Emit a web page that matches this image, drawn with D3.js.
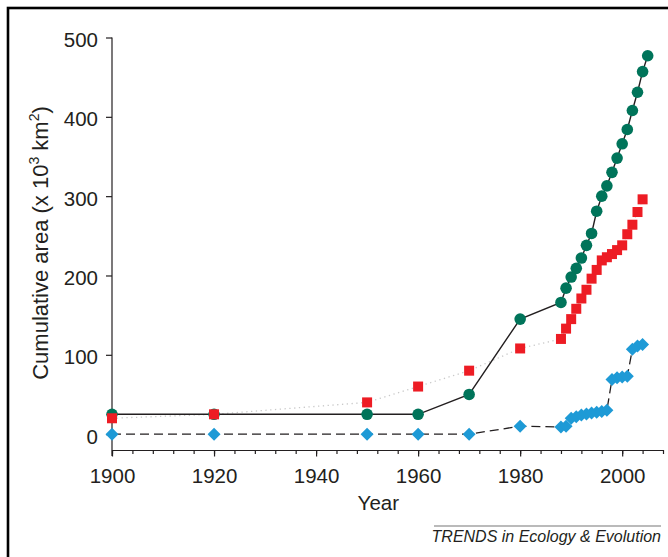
<!DOCTYPE html>
<meta charset="utf-8">
<style>
  body { margin: 0; background: #fff; }
  svg { display: block; font-family: "Liberation Sans", Arial, sans-serif; }
  .axis path, .axis line { stroke: #231f20; stroke-width: 1.2; }
  .axis text { fill: #231f20; font-size: 20.5px; }
</style>
<script src="https://d3js.org/d3.v7.min.js"></script>
<body>
<div id="chart"></div>
<script>
// values (x 10^3 km2)
var greenYears = [1900, 1920, 1950, 1960, 1970, 1980, 1988, 1989, 1990, 1991, 1992, 1993, 1994, 1995, 1996, 1997, 1998, 1999, 2000, 2001, 2002, 2003, 2004, 2005];
var greenValues = [25, 25, 25, 25, 50, 145, 166, 184, 198, 209, 222, 238, 253, 281, 300, 313, 330, 348, 366, 384, 408, 431, 457, 477];

var redYears = [1900, 1920, 1950, 1960, 1970, 1980, 1988, 1989, 1990, 1991, 1992, 1993, 1994, 1995, 1996, 1997, 1998, 1999, 2000, 2001, 2002, 2003, 2004];
var redValues = [20, 25, 40, 60, 80, 108, 120, 133, 145, 158, 171, 182, 196, 207, 219, 223, 227, 232, 238, 252, 264, 280, 296];

var blueYears = [1900, 1920, 1950, 1960, 1970, 1980, 1988, 1989, 1990, 1991, 1992, 1993, 1994, 1995, 1996, 1997, 1998, 1999, 2000, 2001, 2002, 2003, 2004];
var blueValues = [0, 0, 0, 0, 0, 10, 9, 10, 20, 22, 24, 25.5, 26.5, 27.5, 28.5, 30, 69, 71, 72, 73, 107, 111, 113];

var xTickLabels = [1900, 1920, 1940, 1960, 1980, 2000];
var yTickLabels = [0, 100, 200, 300, 400, 500];

var W = 668, H = 557;

var svg = d3.select("#chart").append("svg")
    .attr("width", W)
    .attr("height", H);

// outer frame (runs off the right and bottom edges)
svg.append("rect")
    .attr("x", 8).attr("y", 8)
    .attr("width", 720).attr("height", 600)
    .attr("fill", "none")
    .attr("stroke", "#000")
    .attr("stroke-width", 2.6);

var x = d3.scaleLinear().domain([1900, 2008]).range([112, 663]);
var y = d3.scaleLinear().domain([-20, 500]).range([450, 37.5]);

// x axis: minor ticks every 4 years, labels every 20
svg.append("g")
    .attr("class", "axis")
    .attr("transform", "translate(0,450)")
    .call(d3.axisBottom(x).tickValues(d3.range(1900, 2009, 4)).tickSize(4).tickSizeOuter(0).tickFormat(""));
svg.append("g")
    .attr("class", "axis")
    .attr("transform", "translate(0,450)")
    .call(d3.axisBottom(x).tickValues(xTickLabels).tickSize(6.5).tickPadding(12).tickFormat(d3.format("d")))
    .call(function(g) { g.select(".domain").remove(); });

var yAxis = svg.append("g")
    .attr("class", "axis")
    .attr("transform", "translate(112,0)")
    .call(d3.axisLeft(y).tickValues(yTickLabels).tickSize(6).tickPadding(8).tickSizeOuter(0));
yAxis.selectAll(".tick text").attr("dy", "0.44em");
// y axis line runs down to the foot of the x ticks
yAxis.select(".domain").attr("d", "M0,456V" + y(500));

// axis titles
svg.append("text")
    .attr("x", x(1952.2)).attr("y", 510)
    .attr("text-anchor", "middle")
    .attr("font-size", 20.5)
    .attr("fill", "#231f20")
    .text("Year");

var yt = svg.append("text")
    .attr("transform", "translate(48,243) rotate(-90)")
    .attr("text-anchor", "middle")
    .attr("font-size", 22)
    .attr("fill", "#231f20");
yt.append("tspan").text("Cumulative area (x 10");
yt.append("tspan").attr("font-size", 14).attr("dy", -9).text("3");
yt.append("tspan").attr("dy", 9).text(" km");
yt.append("tspan").attr("font-size", 14).attr("dy", -9).text("2");
yt.append("tspan").attr("dy", 9).text(")");

// journal credit
svg.append("line")
    .attr("x1", 434).attr("x2", 661)
    .attr("y1", 526).attr("y2", 526)
    .attr("stroke", "#777").attr("stroke-width", 1.2);
svg.append("text")
    .attr("x", 661).attr("y", 542)
    .attr("text-anchor", "end")
    .attr("font-size", 16)
    .attr("font-style", "italic")
    .attr("fill", "#231f20")
    .text("TRENDS in Ecology & Evolution");

var line = d3.line().x(function(d) { return x(d[0]); }).y(function(d) { return y(d[1]); });

var green = d3.zip(greenYears, greenValues);
var red = d3.zip(redYears, redValues);
var blue = d3.zip(blueYears, blueValues);

// red: faint dotted line
svg.append("path")
    .datum(red)
    .attr("d", line)
    .attr("fill", "none")
    .attr("stroke", "#c9c9c9")
    .attr("stroke-width", 1.3)
    .attr("stroke-dasharray", "1.3,3.5");

// blue: dashed black line
svg.append("path")
    .datum(blue)
    .attr("d", line)
    .attr("fill", "none")
    .attr("stroke", "#231f20")
    .attr("stroke-width", 1.3)
    .attr("stroke-dasharray", "9,5");

// green: solid black line
svg.append("path")
    .datum(green)
    .attr("d", line)
    .attr("fill", "none")
    .attr("stroke", "#231f20")
    .attr("stroke-width", 1.4);

svg.append("g").selectAll("circle")
    .data(green)
    .enter().append("circle")
    .attr("cx", function(d) { return x(d[0]); })
    .attr("cy", function(d) { return y(d[1]); })
    .attr("r", 5.8)
    .attr("fill", "#00745a");

svg.append("g").selectAll("rect")
    .data(red)
    .enter().append("rect")
    .attr("x", function(d) { return x(d[0]) - 5; })
    .attr("y", function(d) { return y(d[1]) - 5; })
    .attr("width", 10).attr("height", 10)
    .attr("fill", "#ed1c24");

svg.append("g").selectAll("path")
    .data(blue)
    .enter().append("path")
    .attr("transform", function(d) { return "translate(" + x(d[0]) + "," + y(d[1]) + ")"; })
    .attr("d", "M0,-6.5L6.5,0L0,6.5L-6.5,0Z")
    .attr("fill", "#1e9ad6");
</script>
</body>
